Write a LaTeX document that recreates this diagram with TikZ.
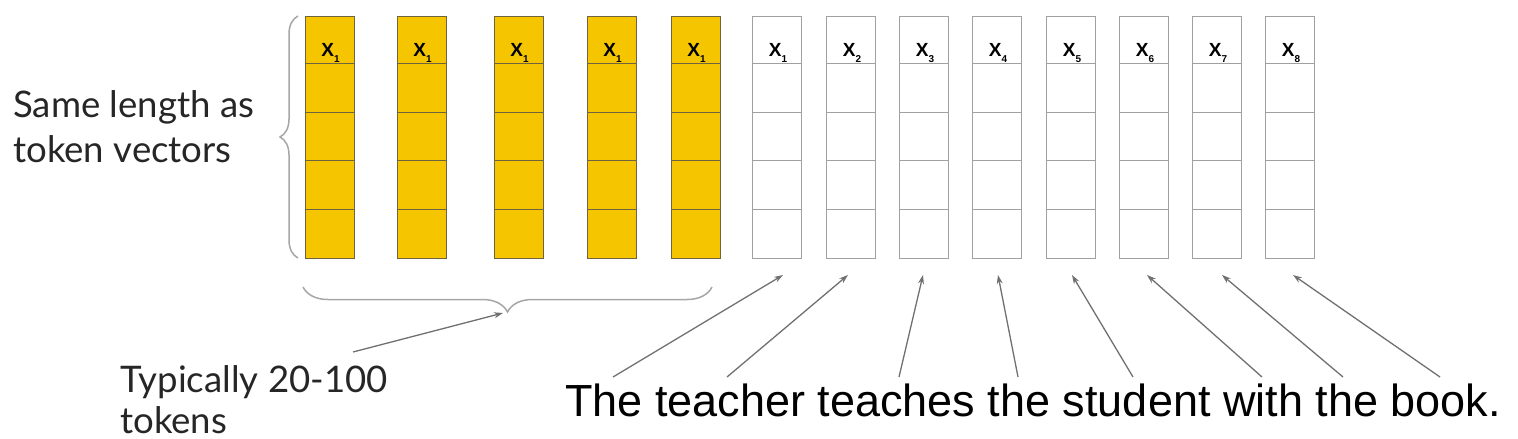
\documentclass[tikz,border=0pt]{standalone}
\usepackage{fontspec}
\setmainfont{Liberation Sans}
\newfontfamily\latofont{Lato}
\usetikzlibrary{decorations.pathreplacing,arrows.meta,calc}
\definecolor{gold}{HTML}{F5C500}
\definecolor{goldedge}{HTML}{6F6440}
\definecolor{celledge}{HTML}{A0A0A0}
\definecolor{bracegray}{HTML}{A6A6A6}
\definecolor{arrowgray}{HTML}{707070}
\begin{document}
\begin{tikzpicture}[x=1pt,y=-1pt,
  colbox/.style={draw, line width=1pt, minimum width=49pt, minimum height=242pt, inner sep=0pt},
  ycol/.style={colbox, fill=gold, draw=goldedge},
  wcol/.style={colbox, fill=white, draw=celledge},
  xlab/.style={anchor=base, inner sep=0pt, font=\bfseries\fontsize{19}{19}\selectfont},
  lato/.style={anchor=base west, inner sep=0pt, font=\latofont\fontsize{36.6}{36.6}\selectfont, text=black!85},
  sent/.style={anchor=base west, inner sep=0pt, font=\fontsize{45}{45}\selectfont},
  ptr/.style={draw=arrowgray, line width=1.3pt, -{Stealth[length=9pt,width=6pt]}},
  bracestyle/.style={draw=bracegray, line width=1.5pt, decorate, decoration={brace, amplitude=#1}}
]
\useasboundingbox (0,0) rectangle (1518,439);

\foreach \i/\cx in {1/329.5,2/421.5,3/518.5,4/611.5,5/695.5} {
  \node[ycol] (y\i) at (\cx,137) {};
  \foreach \r in {1,2,3,4}
    \draw[goldedge, line width=1pt] ($(y\i.north west)+(0,48.4*\r)$) -- ++(49,0);
  \node[xlab] (ly\i) at (\cx+1,56.7) {X\raisebox{-6pt}{\fontsize{10}{10}\selectfont 1}};
}

\foreach \i/\cx in {1/777,2/851,3/924,4/997,5/1071,6/1144,7/1217,8/1290} {
  \node[wcol] (w\i) at (\cx,137) {};
  \foreach \r in {1,2,3,4}
    \draw[celledge, line width=1pt] ($(w\i.north west)+(0,48.4*\r)$) -- ++(49,0);
  \node[xlab] (lw\i) at (\cx+1,56.7) {X\raisebox{-6pt}{\fontsize{10}{10}\selectfont \i}};
}

\node[lato] (same1) at (13,117) {Same length as};
\node[lato] (same2) at (13,162) {token vectors};
\node[lato] (typ1) at (120,392) {Typically 20-100};
\node[lato] (typ2) at (120,433) {tokens};
\node[sent] (sentence) at (565,416.7) {The teacher teaches the student with the book.};

\coordinate (lbt) at (298,16);
\coordinate (lbb) at (298,258);
\draw[bracestyle=18] (lbb) -- (lbt);

\coordinate (bbr) at (712,287);
\coordinate (bbl) at (303,287);
\draw[bracestyle=25] (bbr) -- (bbl);

\coordinate (tstart) at (353,352);
\coordinate (btip) at (503,313);
\draw[ptr] (tstart) -- (btip);

\foreach \i/\sx/\tx in {1/613/783, 2/727/848, 3/899/923, 4/1018/998, 5/1133/1072, 6/1262/1147, 7/1343/1222, 8/1440/1293} {
  \coordinate (s\i) at (\sx,377);
  \coordinate (t\i) at (\tx,275);
  \draw[ptr] (s\i) -- (t\i);
}
\end{tikzpicture}
\end{document}
